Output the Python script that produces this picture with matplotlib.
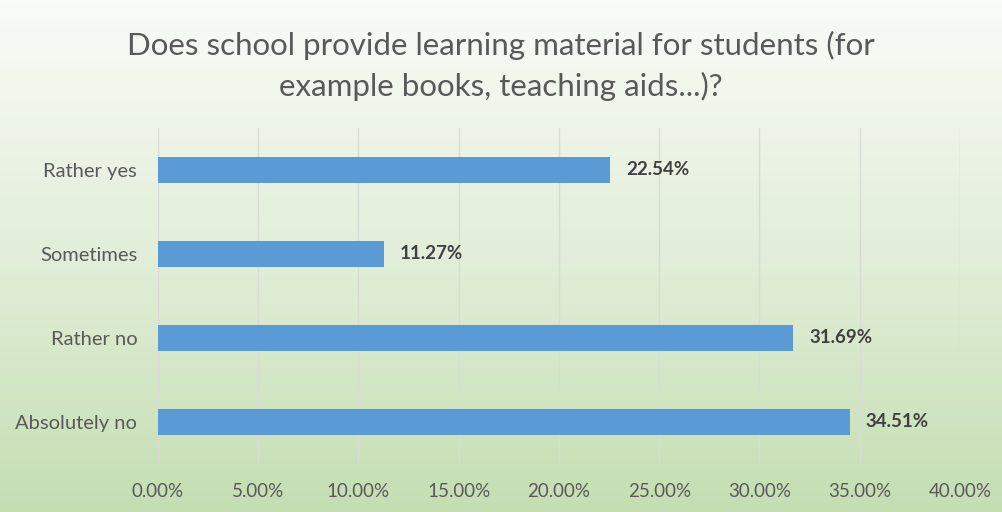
import numpy as np
import matplotlib.pyplot as plt
from matplotlib.colors import LinearSegmentedColormap

categories = ['Rather yes', 'Sometimes', 'Rather no', 'Absolutely no']
values = [22.54, 11.27, 31.69, 34.51]
xticks = [0, 5, 10, 15, 20, 25, 30, 35, 40]

plt.rcParams['font.family'] = ['Lato', 'DejaVu Sans']

fig = plt.figure(figsize=(10.02, 5.12), dpi=100)

# gradient background: near white at top, light green at bottom
bg = fig.add_axes([0, 0, 1, 1], zorder=-1)
cmap = LinearSegmentedColormap.from_list('bg', ['#f9fbf7', '#e2eed9', '#c4deb2'])
grad = np.linspace(0, 1, 256).reshape(-1, 1)
bg.imshow(grad, aspect='auto', cmap=cmap, extent=[0, 1, 1, 0])
bg.axis('off')

ax = fig.add_axes([0.1577, 0.094, 0.8003, 0.656])
ax.patch.set_alpha(0)
y = np.arange(len(categories))
bars = ax.barh(y, values, height=0.31, color='#5b9bd5', zorder=3)
ax.set_ylim(len(categories) - 0.5, -0.5)
ax.set_xlim(0, 40)
ax.set_yticks(y)
ax.set_yticklabels(categories, fontsize=14.5, color='#595959')
ax.set_xticks(xticks)
ax.set_xticklabels([f'{t:.2f}%' for t in xticks], fontsize=13.5, color='#595959')
ax.tick_params(length=0)
ax.tick_params(axis='y', pad=15)
ax.tick_params(axis='x', pad=14)
ax.grid(axis='x', color='#d9dcd5', linewidth=1, zorder=0)
for s in ax.spines.values():
    s.set_visible(False)

for b, v in zip(bars, values):
    ax.text(v + 0.8, b.get_y() + b.get_height() / 2, f'{v:.2f}%',
            va='center', ha='left', fontsize=13.5, fontweight='bold', color='#404040')

fig.text(0.5, 0.912, 'Does school provide learning material for students (for',
         ha='center', va='center', fontsize=22.5, color='#595959')
fig.text(0.5, 0.831, 'example books, teaching aids...)?',
         ha='center', va='center', fontsize=22.5, color='#595959')

fig.savefig('out.png', dpi=100)
